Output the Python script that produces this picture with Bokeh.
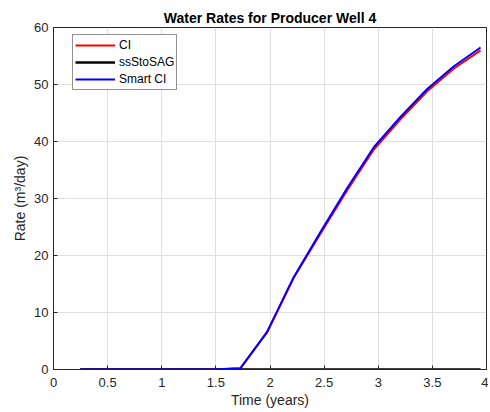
from bokeh.plotting import figure
from bokeh.models import Range1d, FixedTicker, Legend, LegendItem
from bokeh.embed import file_html
from bokeh.resources import INLINE

time_years = [0.247, 0.493, 0.740, 0.986, 1.233, 1.479, 1.726, 1.973, 2.219, 2.466,
              2.712, 2.959, 3.205, 3.452, 3.699, 3.945]
ci = [0, 0, 0, 0, 0, 0, 0.2, 6.5, 16.1, 23.8, 31.4, 38.6, 43.9, 48.8, 52.8, 56.0]
ss_sto_sag = [0, 0, 0, 0, 0, 0, 0, 0, 0, 0, 0, 0, 0, 0, 0, 0]
smart_ci = [0, 0, 0, 0, 0, 0, 0.2, 6.6, 16.2, 24.1, 31.8, 39.0, 44.3, 49.2, 53.2, 56.5]

x_ticks = [0, 0.5, 1, 1.5, 2, 2.5, 3, 3.5, 4]
x_tick_labels = ["0", "0.5", "1", "1.5", "2", "2.5", "3", "3.5", "4"]
y_ticks = [0, 10, 20, 30, 40, 50, 60]

FONT = "Liberation Sans"
TXT = "#262626"

p = figure(width=488, height=410, output_backend="svg", toolbar_location=None,
           x_range=Range1d(0, 4), y_range=Range1d(0, 60),
           min_border_left=53, min_border_right=2, min_border_top=27, min_border_bottom=41)

p.title.text = "Water Rates for Producer Well 4"
p.title.align = "center"
p.title.text_font = FONT
p.title.text_font_size = "14px"
p.title.text_font_style = "bold"
p.title.text_color = "#000000"
p.title.standoff = 4

p.outline_line_color = TXT
p.outline_line_width = 1
p.background_fill_color = "white"
p.border_fill_color = "white"

for ax in (p.xaxis[0], p.yaxis[0]):
    ax.axis_line_color = TXT
    ax.major_tick_line_color = TXT
    ax.major_tick_in = 4
    ax.major_tick_out = 0
    ax.minor_tick_line_color = None
    ax.major_label_text_font = FONT
    ax.major_label_text_font_size = "13px"
    ax.major_label_text_color = TXT
    ax.axis_label_text_font = FONT
    ax.axis_label_text_font_size = "14px"
    ax.axis_label_text_font_style = "normal"
    ax.axis_label_text_color = TXT

p.xaxis[0].ticker = FixedTicker(ticks=x_ticks)
p.xaxis[0].major_label_overrides = {t: l for t, l in zip(x_ticks, x_tick_labels)}
p.xaxis[0].axis_label = "Time (years)"
p.xaxis[0].major_label_standoff = 8
p.xaxis[0].axis_label_standoff = 2
p.yaxis[0].ticker = FixedTicker(ticks=y_ticks)
p.yaxis[0].axis_label = "Rate (m³/day)"
p.yaxis[0].major_label_standoff = 5
p.yaxis[0].axis_label_standoff = 3

p.xgrid.ticker = FixedTicker(ticks=x_ticks)
p.ygrid.ticker = FixedTicker(ticks=y_ticks)
p.grid.grid_line_color = "#dfdfdf"
p.grid.grid_line_width = 1

r_ci = p.line(time_years, ci, line_color="#ff0000", line_width=2)
r_ss = p.line(time_years, ss_sto_sag, line_color="#000000", line_width=2.5)
r_sm = p.line(time_years, smart_ci, line_color="#0000ff", line_width=2)

legend = Legend(items=[LegendItem(label="CI", renderers=[r_ci]),
                       LegendItem(label="ssStoSAG", renderers=[r_ss]),
                       LegendItem(label="Smart CI", renderers=[r_sm])],
                location=(19, 279))
legend.label_text_font = FONT
legend.label_text_font_size = "12px"
legend.label_text_color = "#000000"
legend.glyph_width = 40
legend.glyph_height = 16
legend.label_height = 16
legend.label_standoff = 4
legend.spacing = 1
legend.padding = 2
legend.margin = 0
legend.border_line_color = "#262626"
legend.border_line_width = 1
legend.background_fill_color = "white"
legend.background_fill_alpha = 1
p.add_layout(legend, "center")

open("out.html", "w").write(file_html(p, INLINE))
